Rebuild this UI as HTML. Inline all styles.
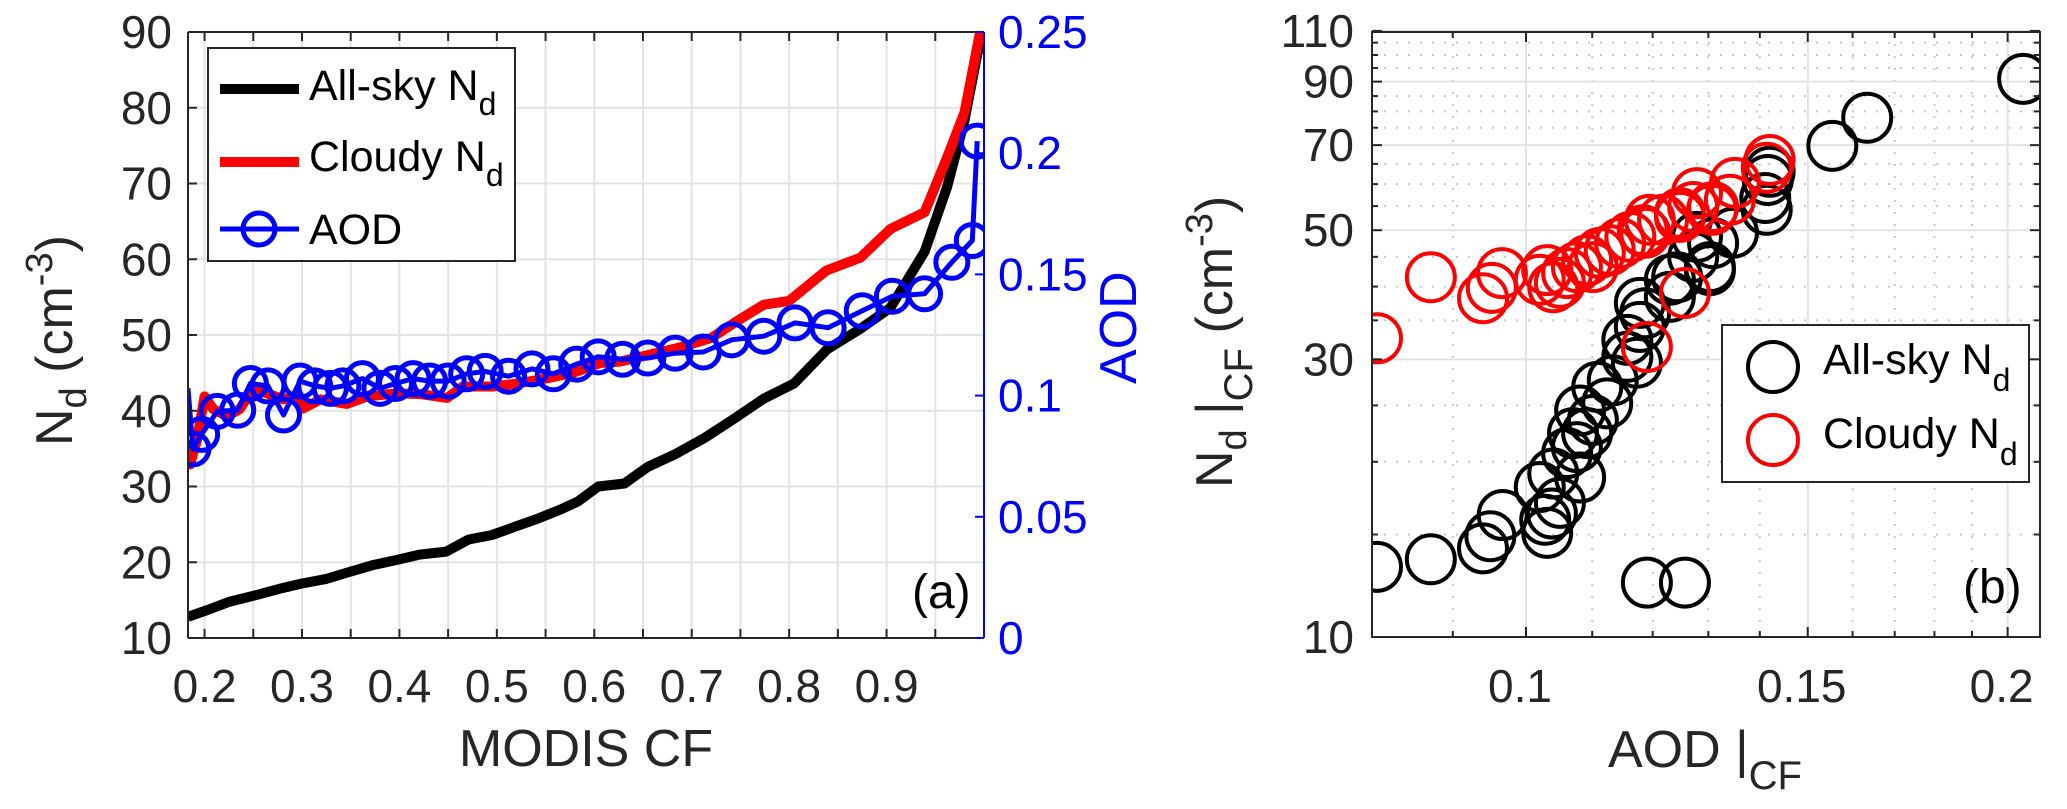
<!DOCTYPE html>
<html><head><meta charset="utf-8"><style>
html,body{margin:0;padding:0;background:#fff;}
svg{display:block;font-family:"Liberation Sans",Arial,sans-serif;}
</style></head><body>
<svg id="fig" width="2067" height="809" viewBox="0 0 2067 809" xmlns="http://www.w3.org/2000/svg">
<defs>
<clipPath id="clipA"><rect x="188" y="32" width="796" height="606"/></clipPath>
<clipPath id="clipB"><rect x="1372" y="32" width="668" height="605"/></clipPath>
</defs>
<g id="panelA"></g>
<g id="panelB"></g>
</svg>
<script>
// ---------- Panel (a) data ----------
const allSkyCF = [0.183,0.203,0.226,0.254,0.277,0.3,0.325,0.348,0.372,0.397,0.42,0.448,0.471,0.495,0.519,0.543,0.566,0.583,0.604,0.631,0.655,0.682,0.713,0.743,0.774,0.805,0.839,0.873,0.904,0.939,0.962,0.98,0.993,1.0];
const allSkyNd = [12.8,13.7,14.8,15.7,16.5,17.2,17.8,18.7,19.6,20.3,21,21.4,23,23.6,24.7,25.8,27,28,30,30.4,32.6,34.2,36.4,38.9,41.6,43.6,48.1,50.8,53.6,61,69.5,78.3,87,90];
const cloudyCF = [0.183,0.185,0.192,0.2,0.209,0.223,0.236,0.25,0.264,0.281,0.295,0.301,0.319,0.346,0.367,0.398,0.421,0.449,0.465,0.496,0.521,0.552,0.578,0.606,0.627,0.686,0.72,0.746,0.774,0.8,0.838,0.873,0.904,0.939,0.962,0.98,0.996];
const cloudyNd = [35.5,32.9,36,41.9,40.2,39.3,40.2,43,42.3,41.5,41.9,40.3,41.5,40.9,41.9,42.3,42.2,41.7,43.2,43.2,43.6,44.3,45,46.3,46.5,48.3,49.6,51.8,54,54.5,58.5,60.2,64,66.2,73.4,79.4,90];
const aodCF = [0.183,0.188,0.197,0.213,0.234,0.247,0.265,0.281,0.298,0.313,0.329,0.342,0.362,0.38,0.396,0.414,0.431,0.45,0.469,0.488,0.512,0.536,0.558,0.582,0.604,0.629,0.655,0.683,0.712,0.741,0.774,0.806,0.84,0.875,0.906,0.939,0.967,0.988,0.993];
const aodVal = [0.103,0.078,0.084,0.0935,0.094,0.105,0.104,0.092,0.106,0.104,0.103,0.104,0.107,0.103,0.105,0.107,0.106,0.106,0.109,0.110,0.108,0.111,0.109,0.113,0.116,0.115,0.1155,0.1175,0.118,0.123,0.1245,0.13,0.128,0.135,0.141,0.142,0.155,0.164,0.205];
const xTicksA = [0.2,0.3,0.4,0.5,0.6,0.7,0.8,0.9];
const xTickLabelsA = ["0.2","0.3","0.4","0.5","0.6","0.7","0.8","0.9"];
const yTicksA = [10,20,30,40,50,60,70,80,90];
const yTicksRight = [0,0.05,0.1,0.15,0.2,0.25];
const yTickLabelsRight = ["0","0.05","0.1","0.15","0.2","0.25"];

// ---------- Panel (b) data ----------
const bAllAOD = [0.0807,0.0872,0.094,0.095,0.0967,0.1031,0.1028,0.1038,0.105,0.102,0.104,0.1081,0.1061,0.1076,0.1092,0.107,0.1101,0.1081,0.1124,0.1108,0.1133,0.1157,0.1173,0.1157,0.1178,0.1187,0.123,0.1243,0.1303,0.1272,0.1309,0.1347,0.1414,0.119,0.1257,0.1279,0.1411,0.1416,0.142,0.1554,0.1634,0.2045,0.1178,0.123,0.1303];
const bAllNd = [13.2,13.6,14.2,14.9,16.2,15.1,15.9,16.3,17.0,18.1,19.1,18.8,20.7,21.2,22.4,22.4,23.6,24.5,25.2,26.9,27.6,30.3,29.6,32.4,34.1,36.0,38.4,41.5,42.7,45.0,47.5,49.5,54.2,12.4,12.4,48.7,56.8,61.0,63.0,69.8,78.0,91.0,37.5,41.1,43.2];
const bCldAOD = [0.0807,0.0872,0.094,0.0952,0.0966,0.1031,0.102,0.104,0.105,0.1061,0.1076,0.1092,0.1101,0.1112,0.1128,0.1145,0.1162,0.1183,0.1195,0.1218,0.1248,0.1272,0.1309,0.1341,0.1257,0.119,0.1187,0.1248,0.1279,0.1307,0.1351,0.1414,0.142];
const bCldNd = [32.6,41.5,38.2,39.8,42.2,42.7,41.1,39.9,40.6,42.2,43.2,44.4,43.2,45.7,46.2,47.5,48.7,50.0,52.1,52.1,53.5,54.8,54.8,56.4,39.0,31.5,49.5,52.7,57.9,54.2,60.3,64.0,66.0];
const xTicksB = [0.1,0.15,0.2];
const xTickLabelsB = ["0.1","0.15","0.2"];
const xMinorB = [0.09,0.11,0.12,0.13,0.14,0.16,0.17,0.18,0.19];
const yTicksB = [10,30,50,70,90,110];
const yMinorB = [15,20,25,35,40,45,55,60,65,75,80,85,95,100,105];

const NS = "http://www.w3.org/2000/svg";
function mk(parent, tag, attrs, text){
  const e = document.createElementNS(NS, tag);
  for (const k in attrs) e.setAttribute(k, attrs[k]);
  if (text !== undefined) e.textContent = text;
  parent.appendChild(e);
  return e;
}
const TXT = "#262626";

// ---------- Panel (a) axes ----------
const A = {l:188, r:984, t:32, b:638, xmin:0.183, xmax:1.0, ymin:10, ymax:90, amin:0, amax:0.25};
function xA(v){ return A.l + (v - A.xmin)/(A.xmax - A.xmin)*(A.r - A.l); }
function yA(v){ return A.b - (v - A.ymin)/(A.ymax - A.ymin)*(A.b - A.t); }
function yAR(v){ return A.b - (v - A.amin)/(A.amax - A.amin)*(A.b - A.t); }

const pa = document.getElementById('panelA');
const gridA = mk(pa, 'g', {});


for (let i = 0; i < 16; i++) {
  const v = 0.2 + i*0.05;
  if (v > 0.999) continue;
  const l = mk(gridA, 'line', {x1:xA(v), x2:xA(v), y1:A.t, y2:A.b, stroke:'#e3e3e3', 'stroke-width':2});
  
  
}
yTicksA.forEach(v => {
  const l = mk(gridA, 'line', {x1:A.l, x2:A.r, y1:yA(v), y2:yA(v), stroke:'#e3e3e3', 'stroke-width':2});
  
  
});

const seriesA = mk(pa, 'g', {'clip-path':'url(#clipA)'});


function pts(xs, ys, fx, fy){ return xs.map((x,i)=>fx(x).toFixed(1)+','+fy(ys[i]).toFixed(1)).join(' '); }
const blk = mk(seriesA, 'polyline', {points:pts(allSkyCF, allSkyNd, xA, yA), fill:'none', stroke:'#000', 'stroke-width':10, 'stroke-linejoin':'round'});


const red = mk(seriesA, 'polyline', {points:pts(cloudyCF, cloudyNd, xA, yA), fill:'none', stroke:'#ff0000', 'stroke-width':10, 'stroke-linejoin':'round'});


const blu = mk(seriesA, 'polyline', {points:pts(aodCF, aodVal, xA, yAR), fill:'none', stroke:'#0000ff', 'stroke-width':5, 'stroke-linejoin':'round'});


aodCF.forEach((c,i) => {
  if (i === 0) return;
  const m = mk(seriesA, 'circle', {cx:xA(c), cy:yAR(aodVal[i]), r:16, fill:'none', stroke:'#0000ff', 'stroke-width':5});
  
  
});

const axA = mk(pa, 'g', {});


mk(axA, 'line', {x1:A.l, x2:A.r, y1:A.b, y2:A.b, stroke:TXT, 'stroke-width':2});
mk(axA, 'line', {x1:A.l, x2:A.r, y1:A.t, y2:A.t, stroke:TXT, 'stroke-width':2});
mk(axA, 'line', {x1:A.l, x2:A.l, y1:A.t, y2:A.b, stroke:TXT, 'stroke-width':2});
mk(axA, 'line', {x1:A.r, x2:A.r, y1:A.t, y2:A.b, stroke:'#0000ff', 'stroke-width':2});
for (let i = 0; i < 16; i++) {
  const v = 0.2 + i*0.05;
  if (v > 0.999) continue;
  mk(axA, 'line', {x1:xA(v), x2:xA(v), y1:A.b, y2:A.b-9, stroke:TXT, 'stroke-width':2});
  mk(axA, 'line', {x1:xA(v), x2:xA(v), y1:A.t, y2:A.t+9, stroke:TXT, 'stroke-width':2});
}
yTicksA.forEach(v => {
  mk(axA, 'line', {x1:A.l, x2:A.l+9, y1:yA(v), y2:yA(v), stroke:TXT, 'stroke-width':2});
  const t = mk(axA, 'text', {x:172, y:yA(v)+16, 'text-anchor':'end', 'font-size':46, fill:TXT}, String(v));
  
  
});
yTicksRight.forEach((v,i) => {
  mk(axA, 'line', {x1:A.r, x2:A.r-9, y1:yAR(v), y2:yAR(v), stroke:'#0000ff', 'stroke-width':2});
  const t = mk(axA, 'text', {x:998, y:yAR(v)+16, 'text-anchor':'start', 'font-size':46, fill:'#0000ff'}, yTickLabelsRight[i]);
  
  
});
xTicksA.forEach((v,i) => {
  const t = mk(axA, 'text', {x:xA(v), y:702, 'text-anchor':'middle', 'font-size':46, fill:TXT}, xTickLabelsA[i]);
  
  
});
</script>
<script>
(function(){
const pa = document.getElementById('panelA');
pa.insertAdjacentHTML('beforeend', `
<text x="586" y="766" text-anchor="middle" font-size="52" fill="#262626">MODIS CF</text>
<text transform="translate(72,446) rotate(-90)" font-size="52" fill="#262626">N<tspan font-size="38" dy="14">d</tspan><tspan dy="-14"> (cm</tspan><tspan font-size="38" dy="-20">-3</tspan><tspan dy="20">)</tspan></text>
<text transform="translate(1136,384) rotate(-90)" font-size="52" fill="#0000ff">AOD</text>
<text x="912" y="608" font-size="48" fill="#000">(a)</text>
<g>
<rect x="208" y="48" width="307" height="213" fill="#fff" stroke="#262626" stroke-width="2"/>
<g>
<line x1="220" x2="299" y1="89" y2="89" stroke="#000" stroke-width="10"/>
<text x="309" y="100" font-size="43" fill="#000">All-sky N<tspan font-size="32" dy="15">d</tspan></text>
</g>
<g>
<line x1="220" x2="299" y1="162" y2="162" stroke="#ff0000" stroke-width="10"/>
<text x="309" y="171" font-size="43" fill="#000">Cloudy N<tspan font-size="32" dy="15">d</tspan></text>
</g>
<g>
<line x1="220" x2="299" y1="229" y2="229" stroke="#0000ff" stroke-width="5"/>
<circle cx="259" cy="229" r="16" fill="none" stroke="#0000ff" stroke-width="5"/>
<text x="309" y="244" font-size="43" fill="#000">AOD</text>
</g>
</g>`);
})();

// ---------- Panel (b) ----------
const B = {l:1372, r:2040, t:32, b:637, x0:0.1, x0px:1526, dec:1600, ydec:582};
function xB(v){ return B.x0px + B.dec*Math.log10(v/B.x0); }
function yB(v){ return B.b - B.ydec*Math.log10(v/10); }
const pb = document.getElementById('panelB');
const gridB = mk(pb, 'g', {});


xMinorB.forEach(v => {
  const l = mk(gridB, 'line', {x1:xB(v), x2:xB(v), y1:B.t, y2:B.b, stroke:'#c8c8c8', 'stroke-width':2, 'stroke-dasharray':'2 10'});
  
  
});
yMinorB.forEach(v => {
  const l = mk(gridB, 'line', {x1:B.l, x2:B.r, y1:yB(v), y2:yB(v), stroke:'#c8c8c8', 'stroke-width':2, 'stroke-dasharray':'2 10'});
  
  
});
xTicksB.forEach(v => {
  const l = mk(gridB, 'line', {x1:xB(v), x2:xB(v), y1:B.t, y2:B.b, stroke:'#e3e3e3', 'stroke-width':2});
  
  
});
yTicksB.forEach(v => {
  const l = mk(gridB, 'line', {x1:B.l, x2:B.r, y1:yB(v), y2:yB(v), stroke:'#e3e3e3', 'stroke-width':2});
  
  
});
const seriesB = mk(pb, 'g', {'clip-path':'url(#clipB)'});


bAllAOD.forEach((a,i) => {
  const c = mk(seriesB, 'circle', {cx:xB(a), cy:yB(bAllNd[i]), r:24, fill:'none', stroke:'#000', 'stroke-width':4});
  
  
});
bCldAOD.forEach((a,i) => {
  const c = mk(seriesB, 'circle', {cx:xB(a), cy:yB(bCldNd[i]), r:24, fill:'none', stroke:'#ff0000', 'stroke-width':4});
  
  
});
const axB = mk(pb, 'g', {});


mk(axB, 'rect', {x:B.l, y:B.t, width:B.r-B.l, height:B.b-B.t, fill:'none', stroke:TXT, 'stroke-width':2});
xTicksB.forEach((v,i) => {
  mk(axB, 'line', {x1:xB(v), x2:xB(v), y1:B.b, y2:B.b-10, stroke:TXT, 'stroke-width':2});
  mk(axB, 'line', {x1:xB(v), x2:xB(v), y1:B.t, y2:B.t+10, stroke:TXT, 'stroke-width':2});
  const t = mk(axB, 'text', {x:xB(v)-6, y:702, 'text-anchor':'middle', 'font-size':46, fill:TXT}, xTickLabelsB[i]);
  
  
});
xMinorB.forEach(v => {
  mk(axB, 'line', {x1:xB(v), x2:xB(v), y1:B.b, y2:B.b-6, stroke:TXT, 'stroke-width':2});
  mk(axB, 'line', {x1:xB(v), x2:xB(v), y1:B.t, y2:B.t+6, stroke:TXT, 'stroke-width':2});
});
yTicksB.forEach(v => {
  mk(axB, 'line', {x1:B.l, x2:B.l+10, y1:yB(v), y2:yB(v), stroke:TXT, 'stroke-width':2});
  mk(axB, 'line', {x1:B.r, x2:B.r-10, y1:yB(v), y2:yB(v), stroke:TXT, 'stroke-width':2});
  const t = mk(axB, 'text', {x:1354, y:yB(v)+16, 'text-anchor':'end', 'font-size':46, fill:TXT}, String(v));
  
  
});
yMinorB.forEach(v => {
  mk(axB, 'line', {x1:B.l, x2:B.l+6, y1:yB(v), y2:yB(v), stroke:TXT, 'stroke-width':2});
  mk(axB, 'line', {x1:B.r, x2:B.r-6, y1:yB(v), y2:yB(v), stroke:TXT, 'stroke-width':2});
});
pb.insertAdjacentHTML('beforeend', `
<text x="1608" y="767" font-size="52" fill="#262626">AOD |<tspan font-size="40" dy="22">CF</tspan></text>
<text transform="translate(1232,488) rotate(-90)" font-size="52" fill="#262626">N<tspan font-size="38" dy="14">d</tspan><tspan dy="-14"> |</tspan><tspan font-size="40" dy="20">CF</tspan><tspan dy="-20"> (cm</tspan><tspan font-size="38" dy="-20">-3</tspan><tspan dy="20">)</tspan></text>
<text x="1963" y="603" font-size="48" fill="#000">(b)</text>
<g>
<rect x="1722" y="325" width="307" height="157" fill="#fff" stroke="#262626" stroke-width="2"/>
<g>
<circle cx="1773" cy="367" r="25" fill="none" stroke="#000" stroke-width="4"/>
<text x="1823" y="374" font-size="43" fill="#000">All-sky N<tspan font-size="32" dy="17">d</tspan></text>
</g>
<g>
<circle cx="1773" cy="440" r="25" fill="none" stroke="#ff0000" stroke-width="4"/>
<text x="1823" y="448" font-size="43" fill="#000">Cloudy N<tspan font-size="32" dy="17">d</tspan></text>
</g>
</g>`);
</script>
</body></html>
